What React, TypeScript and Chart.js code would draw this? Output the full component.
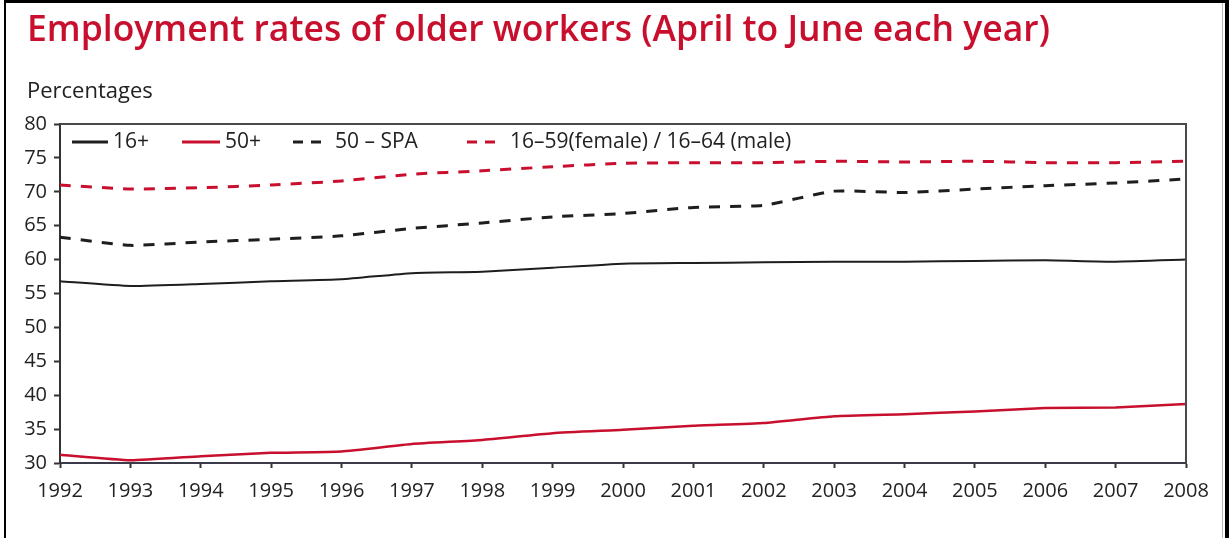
import React, { useEffect, useRef } from "react";
import { Chart, registerables } from "chart.js";

Chart.register(...registerables);

const YEARS = ["1992", "1993", "1994", "1995", "1996", "1997", "1998", "1999", "2000", "2001", "2002", "2003", "2004", "2005", "2006", "2007", "2008"];
const AGE_16_PLUS = [56.8, 56.1, 56.4, 56.8, 57.1, 58.0, 58.2, 58.8, 59.4, 59.5, 59.6, 59.7, 59.7, 59.8, 59.9, 59.7, 60.0];
const AGE_50_PLUS = [31.2, 30.4, 31.0, 31.5, 31.7, 32.8, 33.4, 34.4, 34.9, 35.5, 35.9, 36.9, 37.2, 37.6, 38.1, 38.2, 38.7];
const AGE_50_SPA = [63.3, 62.1, 62.6, 63.0, 63.5, 64.6, 65.4, 66.3, 66.8, 67.7, 68.0, 70.1, 69.9, 70.4, 70.9, 71.3, 71.9];
const WORKING_AGE = [71.0, 70.4, 70.6, 71.0, 71.6, 72.6, 73.1, 73.7, 74.2, 74.3, 74.3, 74.5, 74.4, 74.5, 74.3, 74.3, 74.5];
const SERIES_LABELS = ["16+", "50+", "50 \u2013 SPA", "16\u201359(female) / 16\u201364 (male)"];
const Y_TICKS = [30, 35, 40, 45, 50, 55, 60, 65, 70, 75, 80];

const RED = "#c8102e";
const BLACK = "#1e1e1e";
const FONT = "'Open Sans', sans-serif";

const frameBorderPlugin = {
  id: "frameBorder",
  afterDraw(chart: any) {
    const { ctx, chartArea } = chart;
    ctx.save();
    ctx.strokeStyle = "#4a4a4a";
    ctx.lineWidth = 2;
    ctx.beginPath();
    ctx.moveTo(chartArea.left, chartArea.top);
    ctx.lineTo(chartArea.right, chartArea.top);
    ctx.lineTo(chartArea.right, chartArea.bottom);
    ctx.stroke();
    ctx.restore();
  },
};

const insideLegendPlugin = {
  id: "insideLegend",
  afterDraw(chart: any, _args: any, opts: any) {
    const { ctx, chartArea } = chart;
    const y = chartArea.top + 18;
    ctx.save();
    ctx.font = `${opts.fontSize}px ${FONT}`;
    ctx.textBaseline = "middle";
    ctx.textAlign = "left";
    chart.data.datasets.forEach((ds: any, i: number) => {
      const x0 = chartArea.left + opts.offsets[i];
      const len = opts.sampleLengths[i];
      ctx.strokeStyle = ds.borderColor;
      ctx.lineWidth = 3;
      ctx.setLineDash(ds.borderDash && ds.borderDash.length ? [10, 8] : []);
      ctx.beginPath();
      ctx.moveTo(x0, y);
      ctx.lineTo(x0 + len, y);
      ctx.stroke();
      ctx.setLineDash([]);
      ctx.fillStyle = "#222";
      ctx.fillText(ds.label, x0 + opts.textOffsets[i], y);
    });
    ctx.restore();
  },
};

export default function App() {
  const canvasRef = useRef<HTMLCanvasElement | null>(null);

  useEffect(() => {
    if (!canvasRef.current) return;
    const chart = new Chart(canvasRef.current, {
      type: "line",
      data: {
        labels: YEARS,
        datasets: [
          { label: SERIES_LABELS[0], data: AGE_16_PLUS, borderColor: BLACK, borderWidth: 2, borderDash: [] },
          { label: SERIES_LABELS[1], data: AGE_50_PLUS, borderColor: RED, borderWidth: 2.5, borderDash: [] },
          { label: SERIES_LABELS[2], data: AGE_50_SPA, borderColor: BLACK, borderWidth: 3, borderDash: [11, 10] },
          { label: SERIES_LABELS[3], data: WORKING_AGE, borderColor: RED, borderWidth: 3, borderDash: [11, 10] },
        ],
      },
      options: {
        responsive: false,
        animation: false,
        devicePixelRatio: 1,
        layout: { padding: { top: 124, right: 43, bottom: 0, left: 0 } },
        elements: { point: { radius: 0 }, line: { tension: 0.15 } },
        plugins: {
          legend: { display: false },
          tooltip: { enabled: false },
          insideLegend: { offsets: [12, 122, 233, 407], sampleLengths: [36, 38, 32, 33], textOffsets: [41, 43, 42, 43], fontSize: 21 },
        } as any,
        scales: {
          x: {
            type: "category",
            offset: false,
            afterFit: (s: any) => { s.height = 75; },
            grid: { display: true, drawOnChartArea: false, drawTicks: true, tickLength: 5, tickColor: "#333", tickWidth: 2 },
            border: { display: true, color: "#3a3a4a", width: 2 },
            ticks: { autoSkip: false, maxRotation: 0, padding: 11, color: "#222", font: { family: FONT, size: 20 } },
          },
          y: {
            min: 30,
            max: 80,
            afterFit: (s: any) => { s.width = 60; },
            afterBuildTicks: (s: any) => { s.ticks = Y_TICKS.map((v) => ({ value: v })); },
            grid: { display: true, drawOnChartArea: false, drawTicks: true, tickLength: 6, tickColor: "#333", tickWidth: 2 },
            border: { display: true, color: "#333", width: 2 },
            ticks: { padding: 7, color: "#222", font: { family: FONT, size: 20 } },
          },
        },
      },
      plugins: [frameBorderPlugin, insideLegendPlugin],
    });
    return () => chart.destroy();
  }, []);

  return (
    <div style={{ position: "absolute", left: 0, top: 0, width: 1229, height: 538, background: "#fff", overflow: "hidden" }}>
      <canvas ref={canvasRef} width={1229} height={538} style={{ position: "absolute", left: 0, top: 0, width: 1229, height: 538 }} />
      <div style={{ position: "absolute", left: 4, top: 0, width: 1225, height: 538, boxSizing: "border-box", borderTop: "3px solid #000", borderLeft: "2px solid #000", borderRight: "4px solid #000", pointerEvents: "none" }} />
      <div style={{ position: "absolute", left: 1222, top: 3, width: 1, height: 535, background: "#bbb" }} />
      <div style={{ position: "absolute", left: 27, top: 10, fontFamily: FONT, fontWeight: 600, fontSize: 35.5, lineHeight: "35.5px", color: RED, whiteSpace: "nowrap" }}>
        Employment rates of older workers (April to June each year)
      </div>
      <div style={{ position: "absolute", left: 27, top: 78, fontFamily: FONT, fontSize: 22, lineHeight: "22px", color: "#222", whiteSpace: "nowrap" }}>
        Percentages
      </div>
    </div>
  );
}
